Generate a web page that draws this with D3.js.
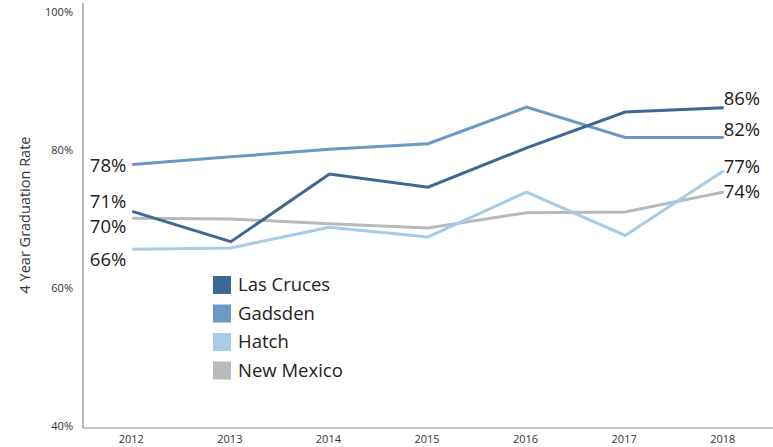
<!DOCTYPE html>
<html><head><meta charset="utf-8">
<script src="https://cdn.jsdelivr.net/npm/d3@7"></script>
<style>html,body{margin:0;padding:0;background:#fff;}svg{display:block;}</style>
</head><body>
<svg id="chart" width="773" height="447"></svg>
<script>
const years = ["2012","2013","2014","2015","2016","2017","2018"];
const seriesNames = ["Las Cruces","Gadsden","Hatch","New Mexico"];
const lasCruces = [71.4, 67.0, 76.8, 74.9, 80.6, 85.8, 86.4];
const gadsden   = [78.2, 79.3, 80.4, 81.2, 86.5, 82.1, 82.1];
const hatch     = [65.9, 66.1, 69.1, 67.7, 74.2, 67.9, 77.3];
const newMexico = [70.4, 70.3, 69.6, 69.0, 71.2, 71.3, 74.2];
const yTicks = [40, 60, 80, 100];
const yTitle = "4 Year Graduation Rate";

const seriesValues = [lasCruces, gadsden, hatch, newMexico];
const colors = ["#3d6896", "#6a99c5", "#a7cce7", "#b9b9b9"];
const startNudge = [-10, 1, 10, 8];
const endNudge = [-9, -8, -4, 0];

const svg = d3.select("#chart");
const font = "'Open Sans', Lato, sans-serif";
const x = d3.scalePoint().domain(years).range([83, 773]).padding(0.5);
const y = d3.scaleLinear().domain([40, 100]).range([428, 14]);

// axes
svg.append("line").attr("x1", 83).attr("x2", 83).attr("y1", 3).attr("y2", 428)
  .attr("stroke", "#8c8c8c").attr("stroke-width", 1.2);
svg.append("line").attr("x1", 83).attr("x2", 773).attr("y1", 428).attr("y2", 428)
  .attr("stroke", "#8c8c8c").attr("stroke-width", 1.2);

svg.selectAll(".ytick").data(yTicks).enter().append("text")
  .attr("x", 73).attr("y", d => y(d) - 2).attr("dy", "0.35em")
  .attr("text-anchor", "end").attr("font-family", font).attr("font-size", 11)
  .attr("fill", "#333").text(d => d + "%");

svg.selectAll(".xtick").data(years).enter().append("text")
  .attr("x", d => x(d) - 1).attr("y", 439).attr("dy", "0.35em")
  .attr("text-anchor", "middle").attr("font-family", font).attr("font-size", 11)
  .attr("fill", "#333").text(d => d);

svg.append("text").attr("transform", "translate(25,215) rotate(-90)")
  .attr("text-anchor", "middle").attr("dy", "0.35em")
  .attr("font-family", font).attr("font-size", 14.5).attr("fill", "#333").text(yTitle);

// lines
const line = d3.line().x((d, i) => x(years[i])).y(d => y(d));
const order = [3, 2, 1, 0];
order.forEach(s => {
  svg.append("path").datum(seriesValues[s]).attr("d", line)
    .attr("fill", "none").attr("stroke", colors[s]).attr("stroke-width", 3)
    .attr("stroke-linejoin", "miter");
});

// data labels
seriesValues.forEach((vals, s) => {
  svg.append("text").attr("x", x(years[0]) - 6).attr("y", y(vals[0]) + startNudge[s])
    .attr("dy", "0.35em").attr("text-anchor", "end")
    .attr("font-family", font).attr("font-size", 18.5).attr("fill", "#222")
    .text(Math.round(vals[0]) + "%");
  const last = vals.length - 1;
  svg.append("text").attr("x", x(years[last]) + 0).attr("y", y(vals[last]) + endNudge[s])
    .attr("dy", "0.35em").attr("text-anchor", "start")
    .attr("font-family", font).attr("font-size", 18.5).attr("fill", "#222")
    .text(Math.round(vals[last]) + "%");
});

// legend
const lg = svg.append("g").attr("transform", "translate(213,276)");
seriesNames.forEach((n, i) => {
  lg.append("rect").attr("x", 0).attr("y", i * 28.5).attr("width", 18).attr("height", 18)
    .attr("fill", colors[i]);
  lg.append("text").attr("x", 25).attr("y", i * 28.5 + 9).attr("dy", "0.35em")
    .attr("font-family", font).attr("font-size", 18.5).attr("fill", "#222").text(n);
});
</script>
</body></html>
